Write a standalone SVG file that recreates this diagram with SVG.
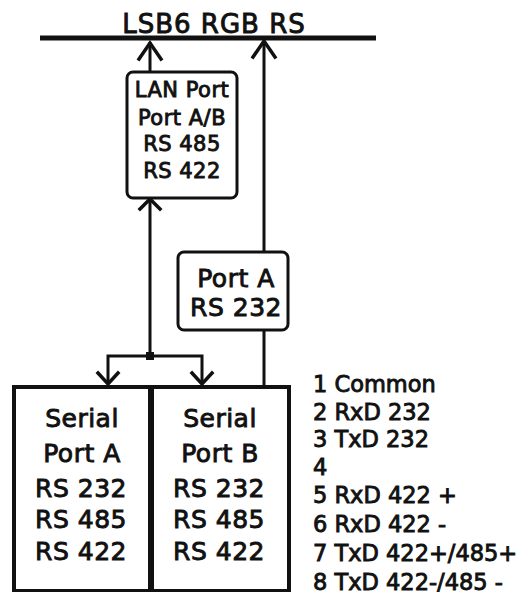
<svg xmlns="http://www.w3.org/2000/svg" width="523" height="592" viewBox="0 0 523 592">
<style>
text{font-family:"DejaVu Sans","Liberation Sans",sans-serif;font-weight:normal;fill:#111;stroke:#111;stroke-width:0.9px;}
.box{fill:#fff;stroke:#111;stroke-width:3;}
.ln{fill:none;stroke:#111;stroke-width:3;}
.ah{fill:none;stroke:#111;stroke-width:3.5;stroke-linecap:square;}
.big{font-size:25px;text-anchor:middle;letter-spacing:0.5px;}
.lan{font-size:21px;text-anchor:middle;letter-spacing:0.5px;}
.pin{font-size:22.5px;}
</style>
<g id="bus">
<line x1="40" y1="38" x2="376" y2="38" stroke="#111" stroke-width="5"/>
<text x="214" y="33" font-size="26" text-anchor="middle" letter-spacing="1">LSB6 RGB RS</text>
</g>
<g id="connectors">
<line class="ln" x1="150" y1="42" x2="150" y2="72"/>
<polyline class="ah" points="139,59 150,43 161,59"/>
<line class="ln" x1="264" y1="41" x2="264" y2="386"/>
<polyline class="ah" points="253,57 264,41 275,57"/>
<line class="ln" x1="150" y1="199" x2="150" y2="356"/>
<polyline class="ah" points="140,209 150,199 160,209"/>
<polyline class="ln" points="108,384 108,356 202,356 202,384"/>
<rect x="146" y="352" width="8" height="8" fill="#111"/>
<polyline class="ah" points="98,373 108,384 118,373"/>
<polyline class="ah" points="192,373 202,384 212,373"/>
</g>
<g id="lan-port">
<rect class="box" x="127" y="72" width="110" height="126" rx="6"/>
<text class="lan" x="182" y="97">LAN Port</text>
<text class="lan" x="182" y="125">Port A/B</text>
<text class="lan" x="182" y="151">RS 485</text>
<text class="lan" x="182" y="178">RS 422</text>
</g>
<g id="port-a">
<rect class="box" x="178" y="252" width="110" height="78" rx="6"/>
<text class="big" x="236" y="287">Port A</text>
<text class="big" x="236" y="316">RS 232</text>
</g>
<g id="serial-a">
<rect x="14" y="387" width="136" height="204" fill="#fff" stroke="#111" stroke-width="4"/>
<text class="big" x="82" y="427">Serial</text>
<text class="big" x="82" y="462">Port A</text>
<text class="big" x="81" y="497">RS 232</text>
<text class="big" x="81" y="528">RS 485</text>
<text class="big" x="81" y="560">RS 422</text>
</g>
<g id="serial-b">
<rect x="152" y="387" width="137" height="204" fill="#fff" stroke="#111" stroke-width="4"/>
<text class="big" x="220" y="427">Serial</text>
<text class="big" x="220" y="462">Port B</text>
<text class="big" x="219" y="497">RS 232</text>
<text class="big" x="219" y="528">RS 485</text>
<text class="big" x="219" y="560">RS 422</text>
</g>
<g id="pinout">
<text class="pin" x="313" y="392">1 Common</text>
<text class="pin" x="313" y="420">2 RxD 232</text>
<text class="pin" x="313" y="447">3 TxD 232</text>
<text class="pin" x="313" y="475">4</text>
<text class="pin" x="313" y="503">5 RxD 422 +</text>
<text class="pin" x="313" y="532">6 RxD 422 -</text>
<text class="pin" x="313" y="561">7 TxD 422+/485+</text>
<text class="pin" x="313" y="590">8 TxD 422-/485 -</text>
</g>
</svg>
